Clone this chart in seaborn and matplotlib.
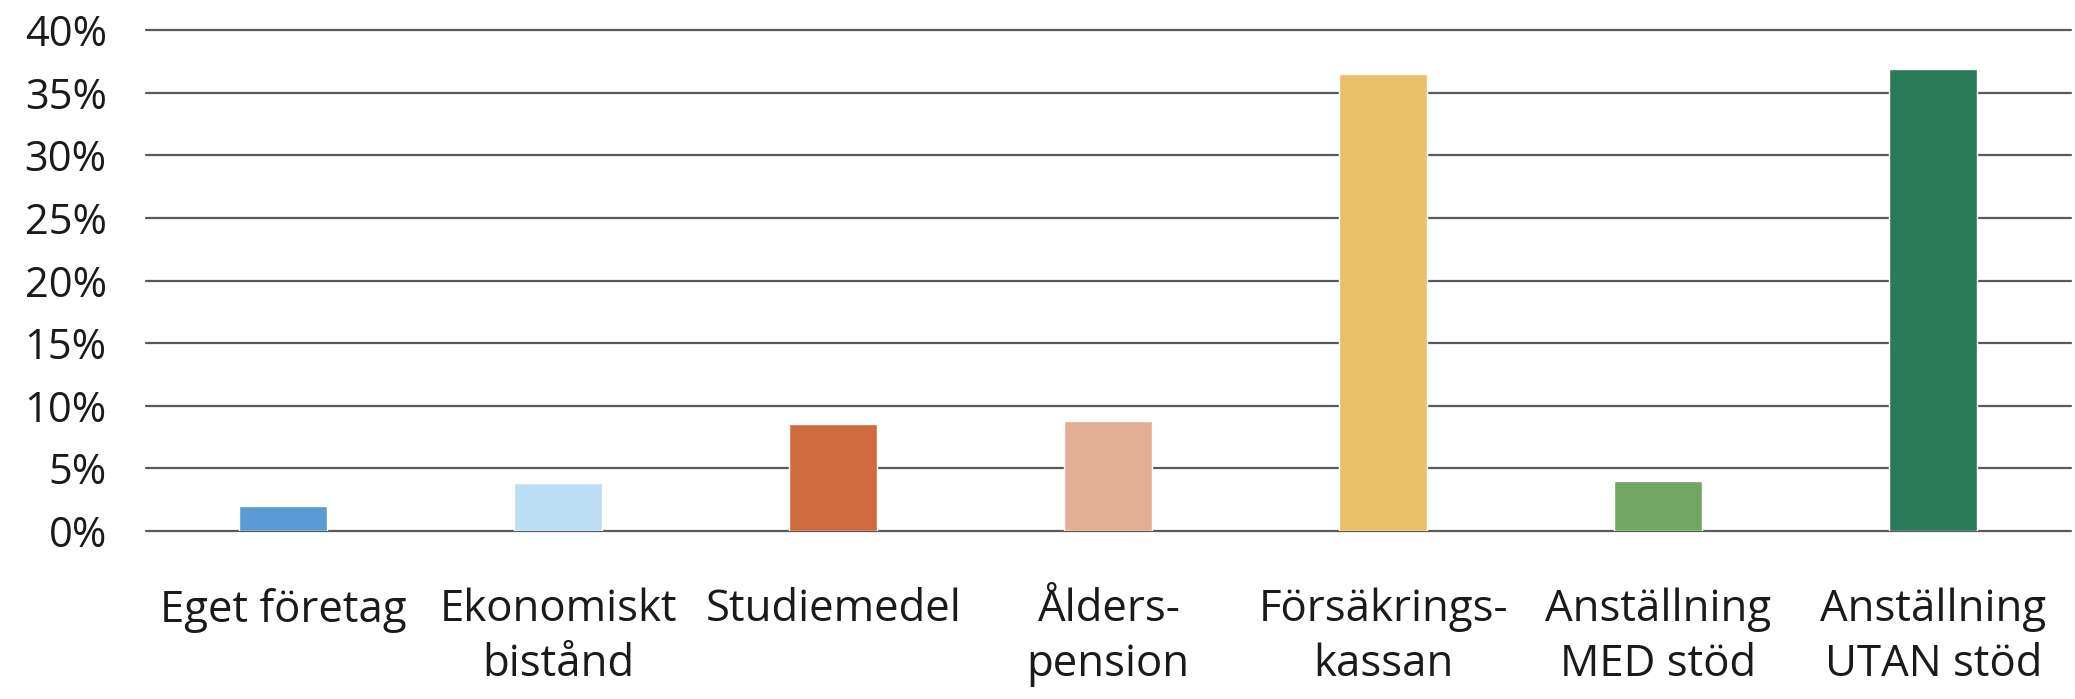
import matplotlib
matplotlib.use('Agg')
import matplotlib.pyplot as plt
import seaborn as sns
import pandas as pd

# data
categories = ['Eget företag', 'Ekonomiskt\nbistånd', 'Studiemedel', 'Ålders-\npension',
              'Försäkrings-\nkassan', 'Anställning\nMED stöd', 'Anställning\nUTAN stöd']
shares = [2.0, 3.8, 8.5, 8.75, 36.5, 4.0, 36.9]
colors = ['#5B9BD5', '#BDDDF4', '#D06A3F', '#E4AE94', '#EBBF67', '#72A663', '#297A58']
y_ticks = [0, 5, 10, 15, 20, 25, 30, 35, 40]

df = pd.DataFrame({'kategori': categories, 'andel': shares})

sns.set_style('white')
plt.rcParams['font.family'] = ['Open Sans', 'DejaVu Sans']

fig = plt.figure(figsize=(20.75, 6.99), dpi=100)
ax = fig.add_axes([0.0702, 0.2408, 0.9278, 0.7157])

sns.barplot(data=df, x='kategori', y='andel', hue='kategori', palette=colors,
            legend=False, width=0.32, saturation=1, ax=ax, zorder=3)

ax.set_ylim(0, 40)
ax.set_xlim(-0.5, len(categories) - 0.5)
ax.set_yticks(y_ticks)
ax.set_yticklabels([f'{t}%' for t in y_ticks])
for t in y_ticks:
    ax.axhline(t, color='#595959', linewidth=1.6, zorder=1, clip_on=False)

ax.tick_params(axis='y', length=0, pad=28, labelsize=30, colors='#1a1a1a')
ax.tick_params(axis='x', length=0, pad=41, labelsize=31.5, colors='#1a1a1a')
for lbl in ax.get_xticklabels():
    lbl.set_linespacing(1.3)
    lbl.set_verticalalignment('top')

ax.set_xlabel('')
ax.set_ylabel('')
sns.despine(ax=ax, left=True, bottom=True)

plt.savefig('out.png', dpi=100)
